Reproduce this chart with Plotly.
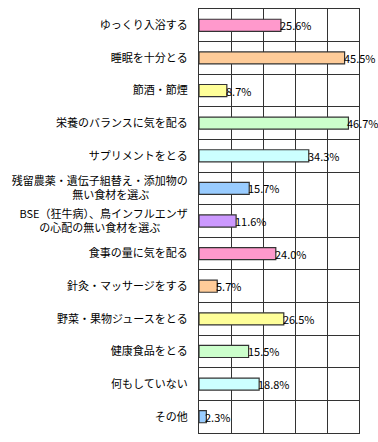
import plotly.graph_objects as go

categories = [
    "ゆっくり入浴する",
    "睡眠を十分とる",
    "節酒・節煙",
    "栄養のバランスに気を配る",
    "サプリメントをとる",
    "残留農薬・遺伝子組替え・添加物の<br>無い食材を選ぶ\u3000\u3000\u3000\u2002\u200b",
    "BSE（狂牛病）、鳥インフルエンザ<br>の心配の無い食材を選ぶ\u3000\u3000\u2002\u200b",
    "食事の量に気を配る",
    "針灸・マッサージをする",
    "野菜・果物ジュースをとる",
    "健康食品をとる",
    "何もしていない",
    "その他",
]
values = [25.6, 45.5, 8.7, 46.7, 34.3, 15.7, 11.6, 24.0, 5.7, 26.5, 15.5, 18.8, 2.3]
labels = [f"{v:.1f}%" for v in values]
colors = ["#FF99CC", "#FFCC99", "#FFFF99", "#CCFFCC", "#CCFFFF", "#99CCFF", "#CC99FF",
          "#FF99CC", "#FFCC99", "#FFFF99", "#CCFFCC", "#CCFFFF", "#99CCFF"]

font = "Noto Sans CJK JP"

fig = go.Figure(go.Bar(
    x=values, y=categories, orientation="h",
    marker=dict(color=colors, line=dict(color="#333333", width=1.2)),
    width=0.37, hoverinfo="x+y",
))

for cat, v, lab in zip(categories, values, labels):
    fig.add_annotation(
        x=v, y=cat, xref="x", yref="y", text=lab, showarrow=False,
        xanchor="left", yanchor="middle", xshift=-1,
        font=dict(family=font, size=11, color="#000000"),
        borderpad=0, borderwidth=0,
    )

fig.update_layout(
    width=378, height=442,
    margin=dict(l=199, r=19, t=9, b=9, autoexpand=False),
    paper_bgcolor="white", plot_bgcolor="white",
    showlegend=False,
    font=dict(family=font, size=11, color="#000000"),
    xaxis=dict(range=[0, 50], dtick=10, showticklabels=False, showgrid=True,
               gridcolor="#333333", gridwidth=1, zeroline=False, automargin=False,
               showline=True, linecolor="#333333", linewidth=1.2, mirror=True, ticks=""),
    yaxis=dict(type="category", autorange="reversed", tickson="boundaries",
               showgrid=True, gridcolor="#333333", gridwidth=1, automargin=False,
               showline=True, linecolor="#333333", linewidth=1.2, mirror=True,
               ticks="", ticklabelstandoff=8, tickfont=dict(family=font, size=11)),
)

fig.write_html(
    "out.html",
    config={"displayModeBar": False},
    post_script="document.body.style.margin='0';document.body.style.overflow='hidden';",
)
